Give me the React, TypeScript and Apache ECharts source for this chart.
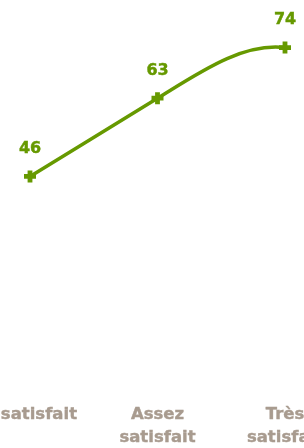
import React, { useEffect, useRef } from "react";
import * as echarts from "echarts";

const categories = ["Insatisfait", "Assez\nsatisfait", "Très\nsatisfait"];
const values = [46, 63, 74];

const GREEN = "#669900";
const GREY = "#a89b8f";
const FONT = "DejaVu Sans";
const PLUS =
  "path://M3,0 L7,0 L7,3 L10,3 L10,7 L7,7 L7,10 L3,10 L3,7 L0,7 L0,3 L3,3 Z";

export default function App() {
  const ref = useRef<HTMLDivElement>(null);
  useEffect(() => {
    document.body.style.margin = "0";
    const chart = echarts.init(ref.current!, null, { renderer: "svg" });

    const renderCurve = (params: any, api: any) => {
      if (params.dataIndex !== 0) return null;
      const pts = values.map((v, i) => api.coord([i, v]));
      const children: any[] = [];
      for (let i = 0; i < pts.length - 1; i++) {
        const a = pts[i];
        const b = pts[i + 1];
        const dx = b[0] - a[0];
        const dy = b[1] - a[1];
        let c1: number[];
        let c2: number[];
        if (i === 0) {
          c1 = [a[0] + dx / 3, a[1] + dy / 3];
          c2 = [b[0] - dx / 3, b[1] - dy / 3];
        } else {
          const p = pts[i - 1];
          c1 = [a[0] + (a[0] - p[0]) / 3, a[1] + (a[1] - p[1]) / 3];
          c2 = [b[0] - dx / 3, b[1] + dy * 0.1];
        }
        children.push({
          type: "bezierCurve",
          shape: {
            x1: a[0],
            y1: a[1],
            cpx1: c1[0],
            cpy1: c1[1],
            cpx2: c2[0],
            cpy2: c2[1],
            x2: b[0],
            y2: b[1],
          },
          style: { stroke: GREEN, lineWidth: 3.5, fill: "none" },
        });
      }
      return { type: "group", children };
    };

    const textBold = {
      fontFamily: FONT,
      fontWeight: "bold",
      textBorderWidth: 0.4,
    };

    chart.setOption({
      animation: false,
      grid: {
        left: 30,
        right: 19,
        top: 20,
        bottom: 60,
        containLabel: false,
        outerBoundsMode: "none",
      },
      xAxis: {
        type: "category",
        data: categories,
        boundaryGap: false,
        axisLine: { show: false },
        axisTick: { show: false },
        splitLine: { show: false },
        axisLabel: {
          ...textBold,
          interval: 0,
          margin: 14,
          color: GREY,
          textBorderColor: GREY,
          fontSize: 16.5,
          lineHeight: 23,
          hideOverlap: false,
        },
      },
      yAxis: {
        type: "value",
        min: 0,
        max: 80,
        show: false,
        splitLine: { show: false },
      },
      series: [
        {
          type: "custom",
          data: values,
          renderItem: renderCurve,
          clip: false,
          z: 2,
          silent: true,
        },
        {
          type: "line",
          data: values,
          symbol: PLUS,
          symbolSize: 12,
          z: 3,
          itemStyle: { color: GREEN },
          lineStyle: { width: 0, opacity: 0 },
          label: {
            ...textBold,
            show: true,
            position: "top",
            distance: 15,
            color: GREEN,
            textBorderColor: GREEN,
            fontSize: 16,
          },
        },
      ],
    });
    return () => chart.dispose();
  }, []);
  return (
    <div
      ref={ref}
      style={{ position: "fixed", left: 0, top: 0, width: 304, height: 448 }}
    />
  );
}
